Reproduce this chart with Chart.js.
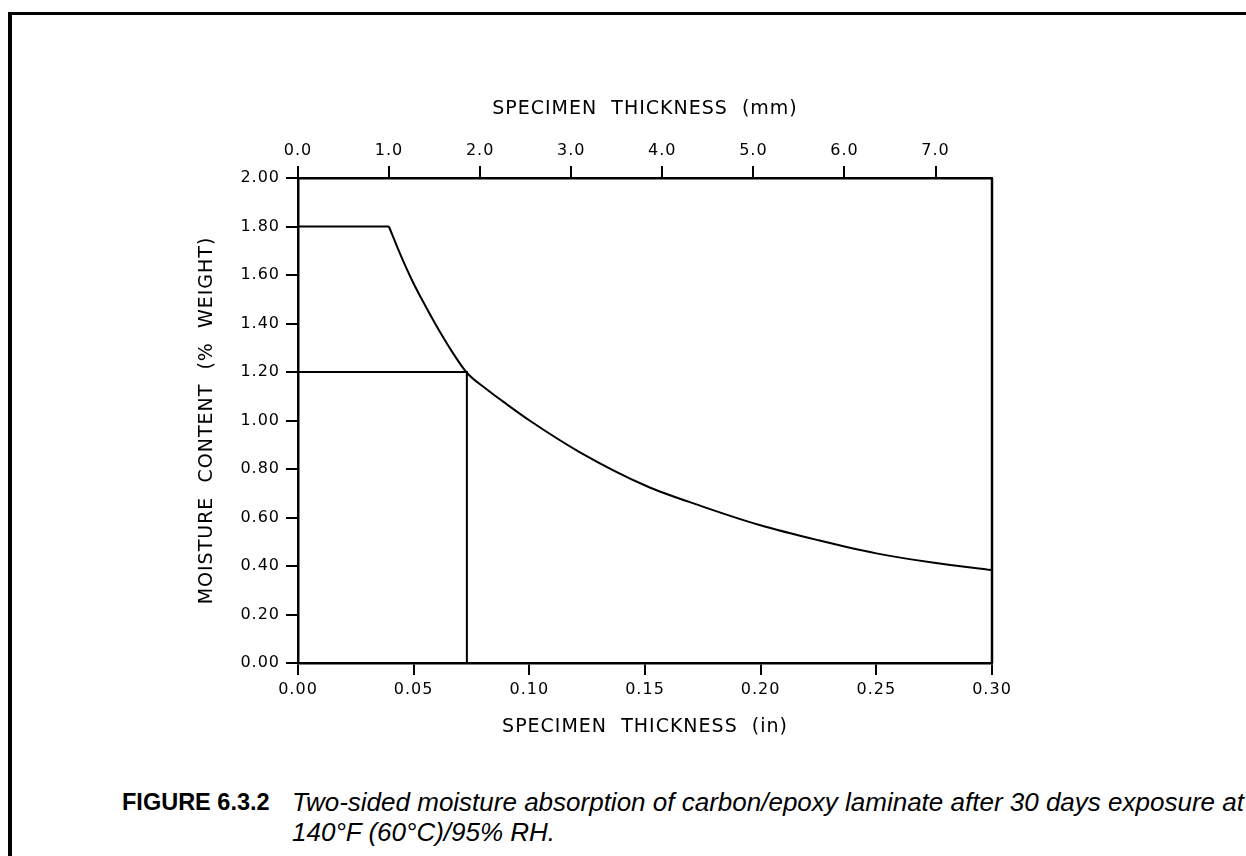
<!DOCTYPE html>
<html>
<head>
<meta charset="utf-8">
<script src="https://cdn.jsdelivr.net/npm/chart.js@4.4.1/dist/chart.umd.min.js"></script>
<style>
  html, body { margin: 0; padding: 0; background: #fff; overflow: hidden; }
  body { width: 1246px; height: 856px; position: relative; }
  #frame { position: absolute; left: 8px; top: 12px; width: 1300px; height: 900px;
           border-left: 4px solid #000; border-top: 3px solid #000; }
  #chart { position: absolute; left: 0; top: 0; }
  #caption { position: absolute; left: 0; top: 787px; width: 1400px;
             font-family: "Liberation Sans", Arial, sans-serif;
             line-height: 30px; white-space: nowrap; color: #000; }
  #caption b { position: absolute; left: 122px; top: 0; font-size: 23.5px; }
  #caption i { position: absolute; left: 292px; top: 0; font-size: 26px; }
</style>
</head>
<body>
<div id="frame"></div>
<canvas id="chart" width="1246" height="760"></canvas>
<div id="caption">
  <b>FIGURE 6.3.2</b>
  <i>Two-sided moisture absorption of carbon/epoxy laminate after 30 days exposure at<br>140°F (60°C)/95% RH.</i>
</div>
<script>
document.addEventListener("DOMContentLoaded", function () {

    // datos (espesor en pulgadas, humedad en % peso)
    const plateauX = [0, 0.0393];
    const plateauY = [1.80, 1.80];

    const curveX = [0.0393, 0.0440, 0.0497, 0.0555, 0.0612, 0.0670, 0.0730, 0.0814, 0.0901,
                    0.1001, 0.1217, 0.1506, 0.1750, 0.1995, 0.2250, 0.2500, 0.2750, 0.3000];
    const curveY = [1.800, 1.690, 1.570, 1.465, 1.368, 1.278, 1.197, 1.130, 1.068,
                    1.000, 0.870, 0.730, 0.645, 0.569, 0.506, 0.452, 0.413, 0.383];

    // lineas de lectura a 1.20 %
    const refX = [0, 0.073, 0.073];
    const refY = [1.20, 1.20, 0];

    const inTicks = [0, 0.05, 0.10, 0.15, 0.20, 0.25, 0.30];
    const mmTicks = [0, 1, 2, 3, 4, 5, 6, 7];
    const yTicks = [0, 0.2, 0.4, 0.6, 0.8, 1.0, 1.2, 1.4, 1.6, 1.8, 2.0];

    const pts = (xs, ys) => xs.map((x, i) => ({ x: x, y: ys[i] }));

    const tickFont = { family: 'DejaVu Sans', size: 16 };
    const titleFont = { family: 'DejaVu Sans', size: 19 };
    const grid = { display: true, drawOnChartArea: false, drawTicks: true, tickLength: 12, color: '#000', lineWidth: 2 };
    const border = { display: true, color: '#000', width: 2.5 };

    const extras = {
        id: 'extras',
        beforeLayout(chart) { chart.ctx.letterSpacing = '1px'; },
        beforeDraw(chart) { chart.ctx.letterSpacing = '1px'; },
        afterDraw(chart) {
            const a = chart.chartArea, ctx = chart.ctx;
            ctx.save();
            ctx.strokeStyle = '#000';
            ctx.lineWidth = 2.5;
            ctx.beginPath();
            ctx.moveTo(a.right, a.top);
            ctx.lineTo(a.right, a.bottom);
            ctx.stroke();
            ctx.restore();
        }
    };

    const line = { borderColor: '#000', borderWidth: 2, pointRadius: 0, fill: false };

    new Chart(document.getElementById('chart'), {
        type: 'scatter',
        data: {
            datasets: [
                Object.assign({ data: pts(plateauX, plateauY), showLine: true, tension: 0 }, line),
                Object.assign({ data: pts(curveX, curveY), showLine: true, cubicInterpolationMode: 'monotone' }, line),
                Object.assign({ data: pts(refX, refY), showLine: true, tension: 0 }, line)
            ]
        },
        options: {
            responsive: false,
            animation: false,
            devicePixelRatio: 1,
            layout: { padding: { left: 196, right: 254, top: 98, bottom: 22 } },
            plugins: { legend: { display: false }, tooltip: { enabled: false } },
            scales: {
                x: {
                    type: 'linear', position: 'bottom', min: 0, max: 0.30,
                    afterBuildTicks: s => { s.ticks = inTicks.map(v => ({ value: v })); },
                    afterFit: s => { s.height = 75; },
                    ticks: { color: '#000', font: tickFont, padding: 5, maxRotation: 0, callback: v => v.toFixed(2) },
                    grid: grid, border: border,
                    title: { display: true, text: 'SPECIMEN  THICKNESS  (in)', color: '#000', font: titleFont, padding: 0 }
                },
                x2: {
                    type: 'linear', axis: 'x', position: 'top', min: 0, max: 7.62,
                    afterBuildTicks: s => { s.ticks = mmTicks.map(v => ({ value: v })); },
                    afterFit: s => { s.height = 80; },
                    ticks: { color: '#000', font: tickFont, padding: 6, maxRotation: 0, callback: v => v.toFixed(1) },
                    grid: grid, border: border,
                    title: { display: true, text: 'SPECIMEN  THICKNESS  (mm)', color: '#000', font: titleFont, padding: 0 }
                },
                y: {
                    type: 'linear', position: 'left', min: 0, max: 2.0,
                    afterBuildTicks: s => { s.ticks = yTicks.map(v => ({ value: v })); },
                    afterFit: s => { s.width = 102; },
                    ticks: { color: '#000', font: tickFont, padding: 6, callback: v => v.toFixed(2) },
                    grid: grid, border: border,
                    title: { display: true, text: 'MOISTURE  CONTENT  (%  WEIGHT)', color: '#000', font: titleFont, padding: 0 }
                }
            }
        },
        plugins: [extras]
    });

});
</script>
</body>
</html>
